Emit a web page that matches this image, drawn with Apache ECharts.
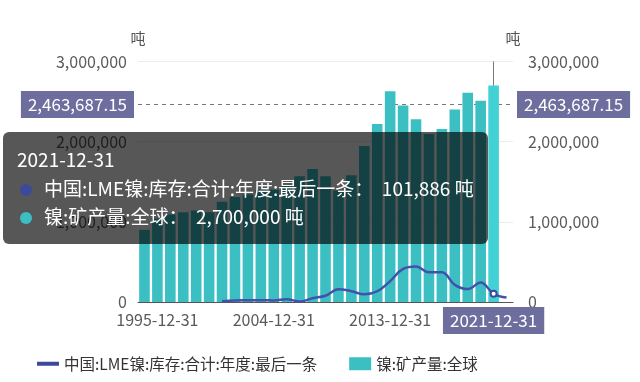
<!DOCTYPE html>
<html><head><meta charset="utf-8">
<script src="https://cdn.jsdelivr.net/npm/echarts@6/dist/echarts.min.js"></script>
<style>html,body{margin:0;padding:0;background:#fff;}#c{width:640px;height:382px;}</style>
</head><body><div id="c"></div>
<script>
const categories = ['1994-12-31','1995-12-31','1996-12-31','1997-12-31','1998-12-31','1999-12-31','2000-12-31','2001-12-31','2002-12-31','2003-12-31','2004-12-31','2005-12-31','2006-12-31','2007-12-31','2008-12-31','2009-12-31','2010-12-31','2011-12-31','2012-12-31','2013-12-31','2014-12-31','2015-12-31','2016-12-31','2017-12-31','2018-12-31','2019-12-31','2020-12-31','2021-12-31','2022-12-31'];
const xLabelsShown = ['1995-12-31','2004-12-31','2013-12-31'];
const lmeName = '中国:LME镍:库存:合计:年度:最后一条';
const mineName = '镍:矿产量:全球';
const lmeStock = [null,null,null,null,null,null,9600,19000,21000,22000,19000,35000,6000,47000,78000,158000,135000,96000,134000,261000,412000,442000,371000,370000,214000,161000,243000,101886,55000];
const mineOutput = [900000,1040000,1090000,1120000,1140000,1120000,1250000,1310000,1340000,1400000,1400000,1460000,1570000,1660000,1570000,1390000,1580000,1945000,2220000,2630000,2450000,2280000,2095000,2157000,2400000,2610000,2510000,2700000,null];
const yMin = 0, yMax = 3000000, yStep = 1000000;
const unit = '吨';
const hoverCategory = '2021-12-31';
const pointerValue = 2463687.15;

const FONT = "'Noto Sans CJK SC','Noto Sans',sans-serif";
const lineColor = '#3d4a9c';
const barColor = '#3cbfc3';
const fmt = v => Number(v).toLocaleString('en-US');
const fmt2 = v => Number(v).toLocaleString('en-US',{minimumFractionDigits:2,maximumFractionDigits:2});

const yAxisBase = (pos, margin) => ({
  type:'value', position:pos, min:yMin, max:yMax, interval:yStep,
  name:unit, nameLocation:'end', nameGap:16,
  nameTextStyle:{color:'#555', fontSize:15, fontFamily:FONT, align:'center'},
  axisLine:{show:false}, axisTick:{show:false},
  axisLabel:{color:'#5a5a5a', fontSize:16, fontFamily:FONT, margin:margin, formatter:fmt},
  splitLine:{lineStyle:{color:'#ececec'}},
  axisPointer:{z:1, lineStyle:{color:'#777', type:[4,4], width:1},
    label:{formatter:p=>fmt2(p.value), backgroundColor:'#6d6e9e', color:'#fff', fontSize:17, fontFamily:FONT, padding:[5,7,5,7], borderRadius:0, margin:4}}
});

const option = {
  animation:false,
  grid:{left:138, right:127, top:61.5, bottom:80, containLabel:false},
  tooltip:{
    trigger:'axis', alwaysShowContent:true, triggerOn:'none',
    axisPointer:{type:'cross'},
    position:[3,132],
    backgroundColor:'rgba(0,0,0,0.66)', borderWidth:0, padding:[13,14,13,14],
    textStyle:{color:'#fff', fontSize:19, fontFamily:FONT},
    extraCssText:'border-radius:6px;box-shadow:none;line-height:28.5px;',
    formatter: params => {
      let h = '<div>' + params[0].axisValue + '</div>';
      params.forEach(p => {
        if (p.value == null) return;
        h += '<div><span style="display:inline-block;width:12px;height:12px;border-radius:50%;background:' + p.color + ';margin:0 12px 0 3px;"></span>' + p.seriesName + '：&nbsp;&nbsp;' + fmt(p.value) + ' ' + unit + '</div>';
      });
      return h;
    }
  },
  legend:{
    left:32, top:351, itemWidth:22, itemHeight:13, itemGap:32,
    textStyle:{color:'#333', fontSize:15.5, fontFamily:FONT},
    data:[
      {name:lmeName, icon:'path://M0,0L0.01,0M0,4.5L22,4.5L22,8.5L0,8.5ZM0,13L0.01,13'},
      {name:mineName, icon:'rect'}
    ]
  },
  xAxis:{
    type:'category', data:categories, boundaryGap:true,
    axisLine:{lineStyle:{color:'#555'}}, axisTick:{show:false},
    axisLabel:{color:'#5a5a5a', fontSize:16, fontFamily:FONT, margin:10,
      interval:(i,v)=>xLabelsShown.includes(v)},
    axisPointer:{z:1, type:'line', lineStyle:{color:'#777', type:'solid', width:1},
      label:{backgroundColor:'#6d6e9e', color:'#fff', fontSize:17, fontFamily:FONT, padding:[5,7,5,7], borderRadius:0, margin:5}}
  },
  yAxis:[yAxisBase('left',11), yAxisBase('right',15)],
  series:[
    {name:lmeName, type:'line', yAxisIndex:0, data:lmeStock, smooth:0.4,
      showSymbol:false, symbol:'emptyCircle', symbolSize:5, z:3,
      lineStyle:{color:lineColor, width:2.5}, itemStyle:{color:lineColor}},
    {name:mineName, type:'bar', yAxisIndex:1, data:mineOutput, barWidth:'82%', z:2,
      itemStyle:{color:barColor}}
  ]
};
const chart = echarts.init(document.getElementById('c'), null, {renderer:'canvas'});
chart.setOption(option);
const px = chart.convertToPixel({xAxisIndex:0}, hoverCategory);
const py = chart.convertToPixel({yAxisIndex:0}, pointerValue);
chart.dispatchAction({type:'showTip', x:px, y:py});
</script></body></html>
